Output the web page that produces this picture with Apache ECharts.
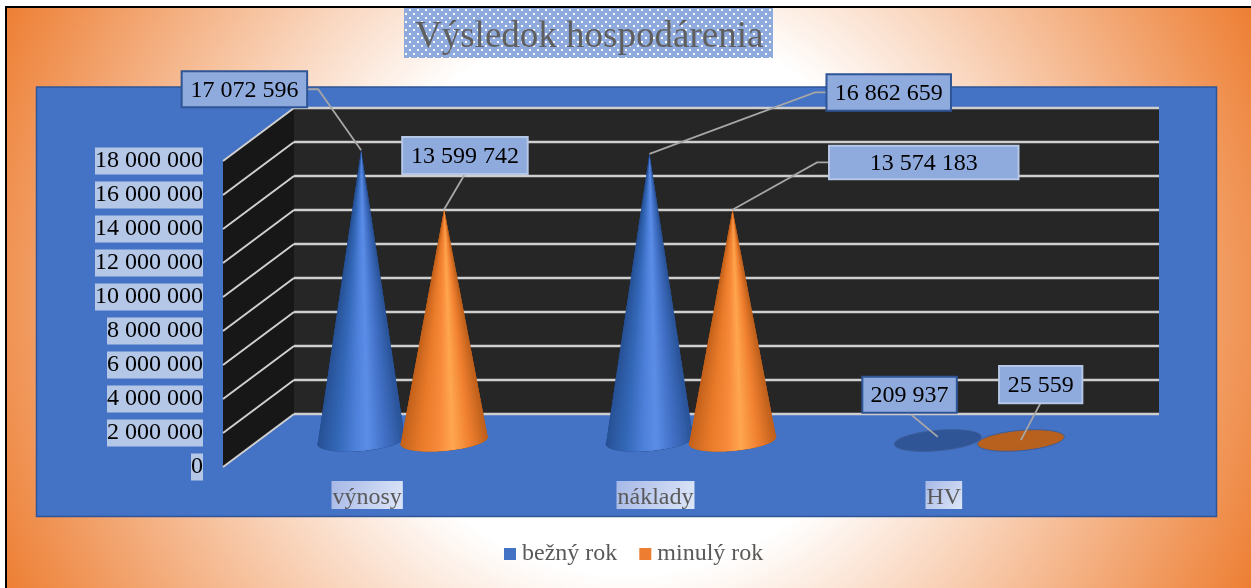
<!DOCTYPE html>
<html>
<head>
<meta charset="utf-8">
<style>html,body{margin:0;padding:0;background:#fff}#c{width:1251px;height:588px}</style>
<script src="https://cdn.jsdelivr.net/npm/echarts@6/dist/echarts.min.js"></script>
</head>
<body>
<div id="c"></div>
<script>
const titleText = 'Výsledok hospodárenia';
const categories = ['výnosy', 'náklady', 'HV'];
const currentYearName = 'bežný rok';
const previousYearName = 'minulý rok';
const currentYear = [17072596, 16862659, 209937];
const previousYear = [13599742, 13574183, 25559];
const axisTicks = [0, 2000000, 4000000, 6000000, 8000000, 10000000, 12000000, 14000000, 16000000, 18000000];

// Oblique-projection constants (front plane -> back wall, pixels)
const DEPTH = [71, -53];
const FLOOR_DEPTH = 0.204;
const GROUP_OFFSET = 0.144;
const CONE_RADIUS = 0.142;
const SERIF = '"Liberation Serif","Times New Roman",serif';

// Label callouts, relative to each cone's apex
const currentCallouts = [
  { box: [-179.5, -79, 125.5, 36], line: [[0, 0], [-43, -61], [-54, -61]] },
  { box: [177, -79.5, 124.5, 36.5], line: [[0, 0], [165.5, -61.5], [177.5, -61.5]] },
  { box: [-75.5, -60.2, 94.5, 36], line: [[0, 0], [-26.5, -22.2]] }
];
const previousCallouts = [
  { box: [-42, -72.3, 125.5, 37], line: [[0, 0], [20, -34]] },
  { box: [96.5, -64, 189.5, 33.5], line: [[0, 0], [84.5, -47.3], [96.5, -47.3]] },
  { box: [-21.8, -74, 83.3, 37.3], line: [[0, 0], [19.5, -36.7]] }
];
const currentLook = {
  stops: [[-1, [40, 82, 150]], [-0.55, [52, 104, 184]], [-0.1, [80, 130, 220]], [0.15, [92, 142, 232]], [0.55, [66, 112, 198]], [1, [42, 84, 152]]],
  base: '#2f5597', edge: '#2d4f8e', box: '#2f5597'
};
const previousLook = {
  stops: [[-1, [196, 98, 28]], [-0.55, [232, 122, 42]], [-0.1, [248, 140, 60]], [0.2, [255, 166, 80]], [0.6, [240, 128, 48]], [1, [190, 96, 28]]],
  base: '#b8611f', edge: '#a9682f', box: '#b4c7e7'
};

function fmt(v) { return String(v).replace(/\B(?=(\d{3})+(?!\d))/g, ' '); }

function shade(stops, u) {
  for (let i = 1; i < stops.length; i++) {
    if (u <= stops[i][0]) {
      const a = stops[i - 1], b = stops[i], f = Math.max(0, (u - a[0]) / (b[0] - a[0]));
      return 'rgb(' + a[1].map((c, k) => Math.round(c + (b[1][k] - c) * f)).join(',') + ')';
    }
  }
  return 'rgb(' + stops[stops.length - 1][1].join(',') + ')';
}

function coneRenderer(side, look, callouts) {
  return function (params, api) {
    const cat = api.value(0), val = api.value(1);
    const band = api.size([1, 0])[0];
    const top = api.coord([cat, val]);
    const foot = api.coord([cat, 0]);
    const cx = foot[0] + DEPTH[0] / 2 + side * GROUP_OFFSET * band;
    const cy = foot[1] + DEPTH[1] / 2;
    const apex = [cx, top[1] + DEPTH[1] / 2];
    const R = CONE_RADIUS * band;
    const kx = DEPTH[0] * FLOOR_DEPTH, ky = DEPTH[1] * FLOOR_DEPTH;
    const N = 144, pts = [];
    for (let i = 0; i < N; i++) {
      const t = i / N * Math.PI * 2;
      pts.push([cx + R * Math.cos(t) - kx * Math.sin(t), cy - ky * Math.sin(t)]);
    }
    const half = Math.sqrt(R * R + kx * kx);
    const children = [];
    const front = [];
    for (let i = 0; i < N; i++) {
      const p = pts[i], q = pts[(i + 1) % N];
      const ex = q[0] - p[0], ey = q[1] - p[1];
      const s1 = ex * (apex[1] - p[1]) - ey * (apex[0] - p[0]);
      const s2 = ex * (cy - p[1]) - ey * (cx - p[0]);
      if (s1 * s2 > 0) front.push(i);
    }
    const flat = front.length === N;
    children.push({
      type: 'polygon', shape: { points: pts },
      style: { fill: look.base, stroke: flat ? '#3d5c98' : look.edge, lineWidth: 1 }
    });
    if (!flat) {
      // Each facet reaches over the next one, so no seam shows between them.
      front.forEach(function (i) {
        const p = pts[i], q = pts[(i + 1) % N];
        const farIdx = (i + 3) % N;
        const far = front.indexOf(farIdx) >= 0 ? pts[farIdx] : q;
        children.push({
          type: 'polygon', shape: { points: [apex, p, far] },
          style: { fill: shade(look.stops, ((p[0] + q[0]) / 2 - cx) / half) }
        });
      });
    }
    const c = callouts[cat];
    children.push({
      type: 'polyline',
      shape: { points: c.line.map(d => [apex[0] + d[0], apex[1] + d[1]]) },
      style: { fill: null, stroke: '#a6a6a6', lineWidth: 1.8 }
    });
    const bx = apex[0] + c.box[0], by = apex[1] + c.box[1];
    children.push({
      type: 'rect', shape: { x: bx, y: by, width: c.box[2], height: c.box[3] },
      style: { fill: '#8faadc', stroke: look.box, lineWidth: 2 }
    });
    children.push({
      type: 'text', x: bx + c.box[2] / 2, y: by + c.box[3] / 2 + 1,
      style: { text: fmt(val), fill: '#000', font: '24px ' + SERIF, align: 'center', verticalAlign: 'middle' }
    });
    return { type: 'group', silent: true, children: children };
  };
}

function wallRenderer(params, api) {
  const v = api.value(0);
  const x = params.coordSys.x;
  const y = api.coord([0, v])[1];
  const children = [];
  if (params.dataIndex === 0) {
    const yTop = api.coord([0, axisTicks[axisTicks.length - 1]])[1];
    children.push({
      type: 'polygon',
      shape: { points: [[x, yTop], [x + DEPTH[0], yTop + DEPTH[1]], [x + DEPTH[0], y + DEPTH[1]], [x, y]] },
      style: { fill: '#171717' }
    });
  }
  children.push({
    type: 'line',
    shape: { x1: x, y1: y, x2: x + DEPTH[0], y2: y + DEPTH[1] },
    style: { stroke: '#cfcfcf', lineWidth: 2 }
  });
  return { type: 'group', silent: true, children: children };
}

const tile = document.createElement('canvas');
tile.width = 8; tile.height = 8;
(function () {
  const g = tile.getContext('2d');
  g.fillStyle = '#8faadc'; g.fillRect(0, 0, 8, 8);
  g.fillStyle = '#ffffff';
  g.fillRect(1, 1, 2, 2); g.fillRect(5, 5, 2, 2);
})();

const chart = echarts.init(document.getElementById('c'), null, { renderer: 'canvas' });
const labelBg = new echarts.graphic.LinearGradient(0, 0, 1, 1, [
  { offset: 0, color: '#a6b8e6' }, { offset: 1, color: '#dde6f8' }
]);
chart.setOption({
  animation: false,
  title: {
    text: titleText, left: 415, top: 19, padding: 0, z: 10,
    textStyle: { fontFamily: SERIF, fontSize: 37, fontWeight: 'normal', color: '#5f5f5f' }
  },
  graphic: { elements: [
    { type: 'rect', z: -20, silent: true, shape: { x: 6, y: 7, width: 1300, height: 640 },
      style: { stroke: '#000', lineWidth: 2,
        fill: new echarts.graphic.RadialGradient(628, 297, 692, [
          { offset: 0, color: '#ffffff' }, { offset: 0.4, color: '#ffffff' }, { offset: 1, color: '#ed7d31' }
        ], true) } },
    { type: 'rect', z: -15, silent: true, shape: { x: 36.5, y: 87, width: 1180, height: 429.5 },
      style: { fill: '#4472c4', stroke: '#2f5597', lineWidth: 1.5 } },
    { type: 'rect', z: -15, silent: true, shape: { x: 404, y: 8, width: 369, height: 50 },
      style: { fill: { image: tile, repeat: 'repeat' } } }
  ] },
  legend: {
    data: [currentYearName, previousYearName], left: 504, top: 542, padding: 0,
    icon: 'rect', itemWidth: 12, itemHeight: 12, itemGap: 22, selectedMode: false,
    textStyle: { fontFamily: SERIF, fontSize: 24, color: '#595959', padding: [2, 0, 0, 1] }
  },
  grid: [
    { left: 223, right: 163, top: 161, bottom: 121, containLabel: false, show: false },
    { left: 294, right: 92, top: 108, bottom: 174, show: true, backgroundColor: '#262626', borderWidth: 0 }
  ],
  xAxis: [
    { type: 'category', gridIndex: 0, data: categories,
      axisLine: { show: false }, axisTick: { show: false }, splitLine: { show: false },
      axisLabel: { margin: 14, fontFamily: SERIF, fontSize: 24, color: '#595959',
        backgroundColor: labelBg, lineHeight: 23, padding: [5, 1, 0, 1] } },
    { type: 'category', gridIndex: 1, data: categories, show: false }
  ],
  yAxis: [
    { type: 'value', gridIndex: 0, min: 0, max: 18000000, interval: 2000000,
      axisLine: { show: false }, axisTick: { show: false }, splitLine: { show: false },
      axisLabel: { margin: 20, fontFamily: SERIF, fontSize: 24, color: '#000',
        backgroundColor: '#b4c7e7', lineHeight: 22, padding: [5, 0, 0, 0], formatter: fmt } },
    { type: 'value', gridIndex: 1, min: 0, max: 18000000, interval: 2000000,
      axisLine: { show: false }, axisTick: { show: false }, axisLabel: { show: false },
      splitLine: { show: true, lineStyle: { color: '#cfcfcf', width: 2.4, type: 'solid' } } }
  ],
  series: [
    { type: 'custom', name: 'walls', xAxisIndex: 0, yAxisIndex: 0, z: 1, silent: true,
      renderItem: wallRenderer, data: axisTicks.map(v => [v]), encode: { y: 0 } },
    { type: 'custom', name: currentYearName, xAxisIndex: 0, yAxisIndex: 0, z: 3, silent: true,
      itemStyle: { color: '#4472c4' },
      renderItem: coneRenderer(-1, currentLook, currentCallouts),
      data: currentYear.map((v, i) => [i, v]), encode: { x: 0, y: 1 } },
    { type: 'custom', name: previousYearName, xAxisIndex: 0, yAxisIndex: 0, z: 4, silent: true,
      itemStyle: { color: '#ed7d31' },
      renderItem: coneRenderer(1, previousLook, previousCallouts),
      data: previousYear.map((v, i) => [i, v]), encode: { x: 0, y: 1 } }
  ]
});
</script>
</body>
</html>
